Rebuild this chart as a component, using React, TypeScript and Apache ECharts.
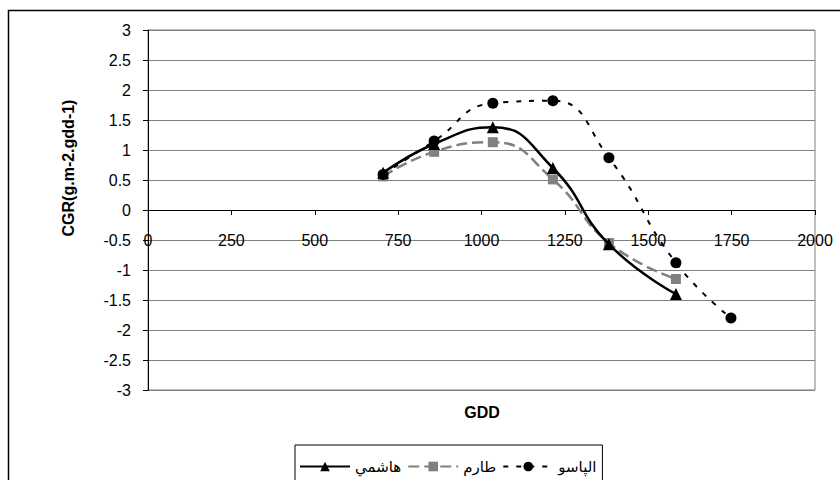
import React, { useEffect, useRef } from "react";
import * as echarts from "echarts";

const gdd = [705, 858, 1034, 1214, 1382, 1583, 1748];
const hashemi = [0.62, 1.1, 1.38, 0.7, -0.57, -1.4];
const tarom = [0.56, 0.97, 1.13, 0.51, -0.55, -1.15];
const alpaso = [0.59, 1.15, 1.78, 1.82, 0.87, -0.88, -1.8];
const seriesNames = ["هاشمي", "طارم", "الپاسو"];
const xTitle = "GDD";
const yTitle = "CGR(g.m-2.gdd-1)";

const FONT = "'Liberation Sans', Arial, 'DejaVu Sans', sans-serif";

function pairs(vals: number[]) {
  return vals.map((v, i) => [gdd[i], v]);
}

export default function App() {
  const ref = useRef<HTMLDivElement>(null);
  useEffect(() => {
    if (!ref.current) return;
    const chart = echarts.init(ref.current, null, { renderer: "svg" });
    chart.setOption({
      animation: false,
      backgroundColor: "#fff",
      textStyle: { fontFamily: FONT, color: "#000" },
      grid: {
        left: 148,
        right: 25,
        top: 30,
        bottom: 90,
        show: true,
        borderColor: "#808080",
        borderWidth: 1,
      },
      xAxis: {
        type: "value",
        min: 0,
        max: 2000,
        interval: 250,
        offset: -180,
        axisLine: { onZero: false, lineStyle: { color: "#000", width: 1 } },
        axisTick: { show: true, length: 5, lineStyle: { color: "#000" } },
        axisLabel: {
          margin: 22,
          fontSize: 16,
          color: "#000",
          fontFamily: FONT,
          showMinLabel: true,
          showMaxLabel: true,
          formatter: (v: number) => String(v),
        },
        splitLine: { show: false },
      },
      yAxis: {
        type: "value",
        min: -3,
        max: 3,
        interval: 0.5,
        axisLine: { show: true, onZero: false, lineStyle: { color: "#000", width: 1 } },
        axisTick: { show: true, length: 5, lineStyle: { color: "#000" } },
        axisLabel: { margin: 17, fontSize: 16, color: "#000", fontFamily: FONT },
        splitLine: { show: true, lineStyle: { color: "#808080", width: 1 } },
      },
      legend: {
        left: 295,
        top: 445,
        orient: "horizontal",
        borderColor: "#000",
        borderWidth: 1,
        padding: [14, 6, 14, 4],
        itemWidth: 50,
        itemHeight: 12,
        itemGap: 6,
        textStyle: { fontSize: 15, color: "#000", fontFamily: FONT },
        data: seriesNames,
      },
      graphic: [
        {
          type: "rect",
          shape: { x: 8.5, y: 10.5, width: 900, height: 900 },
          style: { fill: "none", stroke: "#000", lineWidth: 1.5 },
          silent: true,
        },
        {
          type: "text",
          x: 68,
          y: 168,
          rotation: Math.PI / 2,
          style: {
            text: yTitle,
            fontSize: 16,
            fontWeight: "bold",
            fontFamily: FONT,
            fill: "#000",
            align: "center",
            verticalAlign: "middle",
          },
        },
        {
          type: "text",
          x: 482,
          y: 412,
          style: {
            text: xTitle,
            fontSize: 16,
            fontWeight: "bold",
            fontFamily: FONT,
            fill: "#000",
            align: "center",
            verticalAlign: "middle",
          },
        },
      ],
      series: [
        {
          name: seriesNames[0],
          type: "line",
          data: pairs(hashemi),
          smooth: 0.5,
          symbol: "triangle",
          symbolSize: 12,
          itemStyle: { color: "#000" },
          lineStyle: { color: "#000", width: 2.5, type: "solid" },
          z: 3,
        },
        {
          name: seriesNames[1],
          type: "line",
          data: pairs(tarom),
          smooth: 0.5,
          symbol: "rect",
          symbolSize: 10,
          itemStyle: { color: "#808080" },
          lineStyle: { color: "#808080", width: 2.5, type: [11, 5] },
          z: 2,
        },
        {
          name: seriesNames[2],
          type: "line",
          data: pairs(alpaso),
          smooth: 0.5,
          symbol: "circle",
          symbolSize: 11,
          itemStyle: { color: "#000" },
          lineStyle: { color: "#000", width: 2, type: [5, 8] },
          z: 4,
        },
      ],
    });
    return () => chart.dispose();
  }, []);
  return (
    <div
      ref={ref}
      style={{ position: "absolute", left: 0, top: 0, width: 840, height: 480 }}
    />
  );
}
